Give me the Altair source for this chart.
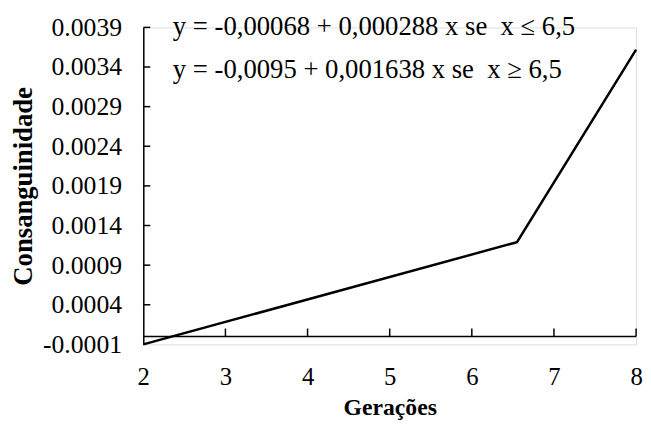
import altair as alt
import pandas as pd

# data
geracoes = [2, 6.55, 8]
consang = [-0.0001, 0.00119, 0.00362]
y_tick_vals = [-0.0001, 0.0004, 0.0009, 0.0014, 0.0019, 0.0024, 0.0029, 0.0034, 0.0039]
x_tick_vals = [2, 3, 4, 5, 6, 7, 8]
eq_text = ["y = -0,00068 + 0,000288 x se \u00a0x \u2264 6,5",
           "y = -0,0095 + 0,001638 x se \u00a0x \u2265 6,5"]
eq_x = [2.36, 2.36]
eq_y = [0.0039, 0.00336]

FONT = "Liberation Serif, Times New Roman, serif"
X_DOM = [2, 8]
Y_DOM = [-0.0001, 0.0039]

line_df = pd.DataFrame({"x": geracoes, "y": consang})
xs = alt.Scale(domain=X_DOM, nice=False, zero=False)
ys = alt.Scale(domain=Y_DOM, nice=False, zero=False)

y_label_expr = "datum.value < 0 ? '-' + format(-datum.value, '.4f') : format(datum.value, '.4f')"

line = alt.Chart(line_df).mark_line(color="black", strokeWidth=2.5).encode(
    x=alt.X("x:Q", scale=xs, title="Gerações",
            axis=alt.Axis(values=x_tick_vals, format="d", domain=False, ticks=False,
                          grid=False, labelFlush=False, labelOverlap=False,
                          labelFont=FONT, labelFontSize=25, labelColor="black",
                          labelPadding=21, titleFont=FONT, titleFontSize=24,
                          titleFontWeight="bold", titleColor="black", titlePadding=6)),
    y=alt.Y("y:Q", scale=ys, title="Consanguinidade",
            axis=alt.Axis(values=y_tick_vals, labelExpr=y_label_expr, domain=True,
                          domainColor="black", domainWidth=1.5, ticks=False, grid=False,
                          labelFlush=False, labelOverlap=False,
                          labelFont=FONT, labelFontSize=26, labelColor="black",
                          labelPadding=22, titleFont=FONT, titleFontSize=27,
                          titleFontWeight="bold", titleColor="black", titlePadding=5)),
)

# horizontal zero line
zero_df = pd.DataFrame({"x": [X_DOM[0]], "x2": [X_DOM[1]], "y": [0.0]})
zero_line = alt.Chart(zero_df).mark_rule(color="black", strokeWidth=1.5).encode(
    x=alt.X("x:Q", scale=xs), x2="x2:Q", y=alt.Y("y:Q", scale=ys))

# inward x ticks on zero line
xt_df = pd.DataFrame({"x": x_tick_vals[1:], "y": [0.0] * 6, "y2": [0.0001] * 6})
x_ticks = alt.Chart(xt_df).mark_rule(color="black", strokeWidth=1.5).encode(
    x=alt.X("x:Q", scale=xs), y=alt.Y("y:Q", scale=ys), y2="y2:Q")

# inward y ticks
yt_df = pd.DataFrame({"y": y_tick_vals[1:], "x": [2.0] * 8, "x2": [2.085] * 8})
y_ticks = alt.Chart(yt_df).mark_rule(color="black", strokeWidth=1.5).encode(
    y=alt.Y("y:Q", scale=ys), x=alt.X("x:Q", scale=xs), x2="x2:Q")

eq_df = pd.DataFrame({"x": eq_x, "y": eq_y, "t": eq_text})
eqs = alt.Chart(eq_df).mark_text(font=FONT, fontSize=27, align="left", baseline="middle",
                                 color="black").encode(
    x=alt.X("x:Q", scale=xs), y=alt.Y("y:Q", scale=ys), text="t:N")

chart = alt.layer(line, zero_line, x_ticks, y_ticks, eqs).properties(
    width=499, height=321,
    autosize=alt.AutoSizeParams(type="none"),
    padding={"left": 137, "top": 17, "right": 7, "bottom": 80},
).configure_view(stroke=None).configure(background="white")

chart.save("out.html", embed_options={"renderer": "svg", "actions": False})
